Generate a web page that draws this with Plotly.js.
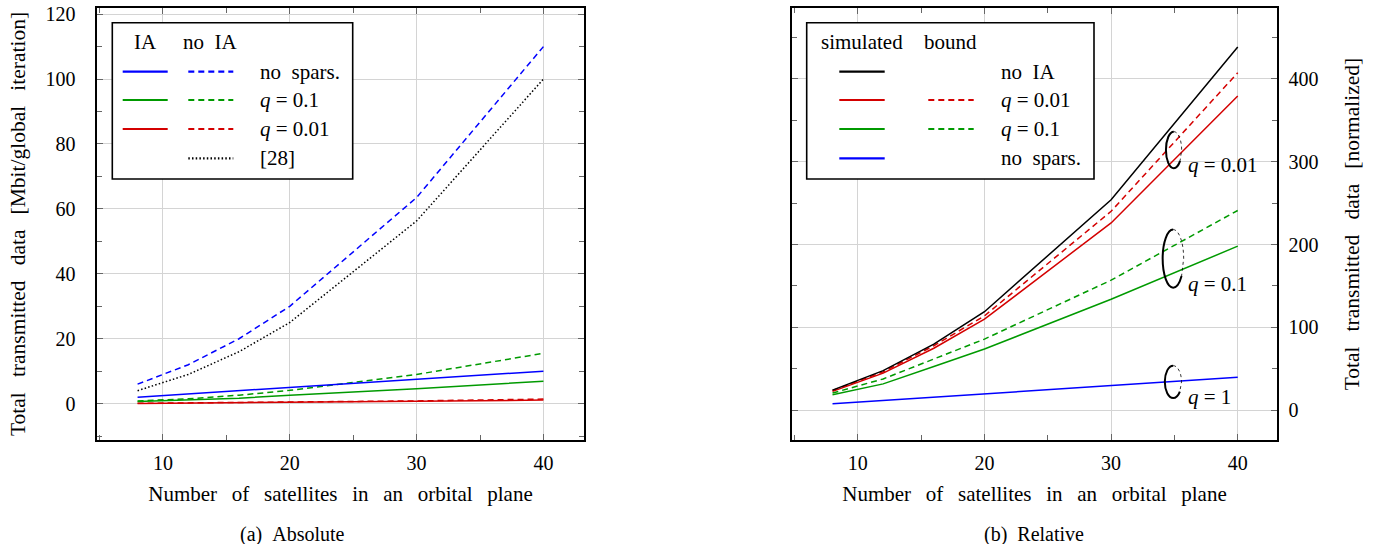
<!DOCTYPE html>
<html><head><meta charset="utf-8">
<script src="https://cdn.plot.ly/plotly-3.0.1.min.js"></script>
<style>html,body{margin:0;padding:0;background:#fff}#chart{width:1376px;height:544px}</style>
</head><body><div id="chart"></div>
<script>
// ---------- data ----------
const satellites = [8, 12, 16, 20, 30, 40];
// (a) Absolute [Mbit/global iteration]
const absNoSparsIA   = [2, 3, 4, 5, 7.5, 10];
const absNoSparsNoIA = [6, 12, 20, 30, 63.5, 110];
const absQ01IA       = [0.7, 1.1, 1.7, 2.6, 4.6, 6.9];
const absQ01NoIA     = [0.85, 1.5, 2.6, 4.1, 9.0, 15.5];
const absQ001IA      = [0.05, 0.15, 0.25, 0.4, 0.75, 1.1];
const absQ001NoIA    = [0.1, 0.2, 0.3, 0.45, 0.85, 1.4];
const absRef28       = [4, 9, 16, 25, 56.3, 100];
// (b) Relative [normalized]
const relNoIA      = [24.5, 48, 80, 119, 254, 438];
const relQ001Sim   = [23, 45, 75, 110, 226, 379];
const relQ001Bound = [24, 46.5, 78, 114, 240, 407];
const relQ01Sim    = [19, 32, 53, 74, 134, 198];
const relQ01Bound  = [21, 38, 62, 86, 157, 241];
const relNoSpars   = [8, 12, 16, 20, 30, 40];
// text
const xTitle = 'Number of satellites in an orbital plane';
const yTitleAbs = 'Total transmitted data [Mbit/global iteration]';
const yTitleRel = 'Total transmitted data [normalized]';
const captions = ['(a) Absolute', '(b) Relative'];
const absLegendHeaders = ['IA', 'no IA'];
const absLegendLabels = ['no spars.', '<i>q</i> = 0.1', '<i>q</i> = 0.01', '[28]'];
const relLegendHeaders = ['simulated', 'bound'];
const relLegendLabels = ['no IA', '<i>q</i> = 0.01', '<i>q</i> = 0.1', 'no spars.'];
const relGroupLabels = ['<i>q</i> = 0.01', '<i>q</i> = 0.1', '<i>q</i> = 1'];

// ---------- style ----------
const BLUE = '#0000ff', GREEN = '#009a00', RED = '#d40000', BLACK = '#000000';
const FONT = 'Liberation Serif';
const W = 1376, H = 544;
const PX = p => p / W, PY = p => 1 - p / H;
const DASH = '6px,4px', DOT = '1.5px,2.2px';
// TeX-like wide inter-word spacing for prose text (not for math labels)
const wide = t => t.replace(/ /g, '\u2002\u2009');
const en = t => t.replace(/ /g, '\u2002');

function tr(x, y, color, dash, xa, ya) {
  return {x: x, y: y, type: 'scatter', mode: 'lines', xaxis: xa, yaxis: ya,
    line: {color: color, width: 1.5, dash: dash || 'solid'}, showlegend: false, hoverinfo: 'skip'};
}
const data = [
  tr(satellites, absRef28, BLACK, DOT, 'x', 'y'),
  tr(satellites, absQ001NoIA, RED, DASH, 'x', 'y'),
  tr(satellites, absQ001IA, RED, null, 'x', 'y'),
  tr(satellites, absQ01NoIA, GREEN, DASH, 'x', 'y'),
  tr(satellites, absQ01IA, GREEN, null, 'x', 'y'),
  tr(satellites, absNoSparsNoIA, BLUE, DASH, 'x', 'y'),
  tr(satellites, absNoSparsIA, BLUE, null, 'x', 'y'),
  tr(satellites, relNoSpars, BLUE, null, 'x2', 'y2'),
  tr(satellites, relQ01Bound, GREEN, DASH, 'x2', 'y2'),
  tr(satellites, relQ01Sim, GREEN, null, 'x2', 'y2'),
  tr(satellites, relQ001Bound, RED, DASH, 'x2', 'y2'),
  tr(satellites, relQ001Sim, RED, null, 'x2', 'y2'),
  tr(satellites, relNoIA, BLACK, null, 'x2', 'y2')
];

const tickFont = {family: FONT, size: 20, color: '#000'};
function axis(extra) {
  return Object.assign({
    showline: true, linecolor: '#000', linewidth: 1.6, mirror: 'allticks',
    ticks: 'inside', ticklen: 6, tickwidth: 1, tickcolor: '#666',
    showgrid: true, gridcolor: '#d4d4d4', gridwidth: 1, zeroline: false,
    tickfont: tickFont, fixedrange: true
  }, extra);
}
const titleFont = {family: FONT, size: 21, color: '#000'};

const layout = {
  width: W, height: H, margin: {l: 0, r: 0, t: 0, b: 0},
  paper_bgcolor: '#fff', plot_bgcolor: '#fff', showlegend: false,
  font: {family: FONT, size: 20, color: '#000'},
  xaxis: axis({domain: [PX(97), PX(584)], range: [4.8, 43.2], dtick: 10, tick0: 0, anchor: 'y',
    ticklabelstandoff: 4,
    minor: {dtick: 5, ticks: 'inside', ticklen: 5, tickcolor: '#666', showgrid: false},
    title: {text: wide(xTitle), font: titleFont, standoff: 14}}),
  yaxis: axis({domain: [PY(440), PY(8)], range: [-11.2, 121.9], dtick: 20, tick0: 0, anchor: 'x',
    ticklabelstandoff: 16,
    minor: {dtick: 10, ticks: 'inside', ticklen: 5, tickcolor: '#666', showgrid: false},
    title: {text: wide(yTitleAbs), font: {family: FONT, size: 21.5, color: '#000'}, standoff: 14}}),
  xaxis2: axis({domain: [PX(792), PX(1277)], range: [4.8, 43.1], dtick: 10, tick0: 0, anchor: 'y2',
    ticklabelstandoff: 4,
    minor: {dtick: 5, ticks: 'inside', ticklen: 5, tickcolor: '#666', showgrid: false},
    title: {text: wide(xTitle), font: titleFont, standoff: 14}}),
  yaxis2: axis({domain: [PY(440), PY(8)], range: [-35.6, 485], dtick: 100, tick0: 0, anchor: 'x2', side: 'right',
    ticklabelstandoff: 6,
    minor: {dtick: 50, ticks: 'inside', ticklen: 5, tickcolor: '#666', showgrid: false},
    title: {text: wide(yTitleRel), font: {family: FONT, size: 21.5, color: '#000'}, standoff: 26}}),
  shapes: [], annotations: []
};

// ---------- custom legends ----------
const S = layout.shapes, A = layout.annotations;
function box(x0, x1, y0, y1) {
  S.push({type: 'rect', xref: 'paper', yref: 'paper', x0: PX(x0), x1: PX(x1), y0: PY(y1), y1: PY(y0),
    line: {color: '#000', width: 1.6}, fillcolor: '#fff', layer: 'above'});
}
function sample(x0, x1, y, color, dash) {
  S.push({type: 'line', xref: 'paper', yref: 'paper', x0: PX(x0), x1: PX(x1), y0: PY(y), y1: PY(y),
    line: {color: color, width: 2.2, dash: dash || 'solid'}, layer: 'above'});
}
function label(text, x, y, anchor, size) {
  A.push({text: text, xref: 'paper', yref: 'paper', x: PX(x), y: PY(y), xanchor: anchor, yanchor: 'middle',
    showarrow: false, font: {family: FONT, size: size || 21, color: '#000'}});
}
const rowsY = [71.7, 100, 129, 158.3];
// (a)
box(112.3, 352.7, 22.7, 179);
label(en(absLegendHeaders[0]), 145, 41.7, 'center');
label(en(absLegendHeaders[1]), 210, 41.7, 'center');
const absRowColors = [BLUE, GREEN, RED];
absRowColors.forEach((c, i) => { sample(122.7, 167.7, rowsY[i], c); sample(188.3, 233.3, rowsY[i], c, DASH); });
sample(188.3, 233.3, rowsY[3], BLACK, DOT);
absLegendLabels.forEach((t, i) => label(t.indexOf('<i>') < 0 ? en(t) : t, 257.7, rowsY[i], 'left'));
// (b)
box(806.7, 1094, 22.7, 179);
label(relLegendHeaders[0], 861.7, 41.7, 'center');
label(relLegendHeaders[1], 951, 41.7, 'center');
const relRowColors = [BLACK, RED, GREEN, BLUE];
relRowColors.forEach((c, i) => sample(839.3, 884.7, rowsY[i], c));
sample(928.3, 973.7, rowsY[1], RED, DASH);
sample(928.3, 973.7, rowsY[2], GREEN, DASH);
relLegendLabels.forEach((t, i) => label(t.indexOf('<i>') < 0 ? en(t) : t, 999.3, rowsY[i], 'left'));

// ---------- group ellipses in (b) ----------
const k = 0.5523;
function groupMark(cx, cy, rx, ry) {
  const solid = `M ${cx},${cy + ry} C ${cx - k * rx},${cy + ry} ${cx - rx},${cy + k * ry} ${cx - rx},${cy} ` +
    `C ${cx - rx},${cy - k * ry} ${cx - k * rx},${cy - ry} ${cx},${cy - ry} ` +
    `Q ${cx + 0.5 * rx},${cy - ry} ${cx + 0.8 * rx},${cy - 0.6 * ry}`;
  const dotted = `M ${cx},${cy + ry} C ${cx + k * rx},${cy + ry} ${cx + rx},${cy + k * ry} ${cx + rx},${cy} ` +
    `L ${cx + 0.8 * rx},${cy - 0.6 * ry}`;
  S.push({type: 'path', xref: 'x2', yref: 'y2', path: solid, line: {color: '#000', width: 2}});
  S.push({type: 'path', xref: 'x2', yref: 'y2', path: dotted, line: {color: '#000', width: 0.8, dash: 'dot'}});
}
groupMark(34.95, 314, 0.62, 22);
groupMark(34.9, 183, 0.83, 35);
groupMark(34.9, 34.5, 0.66, 19.5);
const groupLabelY = [296, 152, 16];
relGroupLabels.forEach((t, i) => A.push({text: t, xref: 'x2', yref: 'y2', x: 35.9, y: groupLabelY[i],
  xanchor: 'left', yanchor: 'middle', showarrow: false, font: {family: FONT, size: 21, color: '#000'}}));

// ---------- captions ----------
label(en(captions[0]), 292, 534, 'center', 20);
label(en(captions[1]), 1034, 534, 'center', 20);

Plotly.newPlot('chart', data, layout, {staticPlot: true, displayModeBar: false});
</script></body></html>
